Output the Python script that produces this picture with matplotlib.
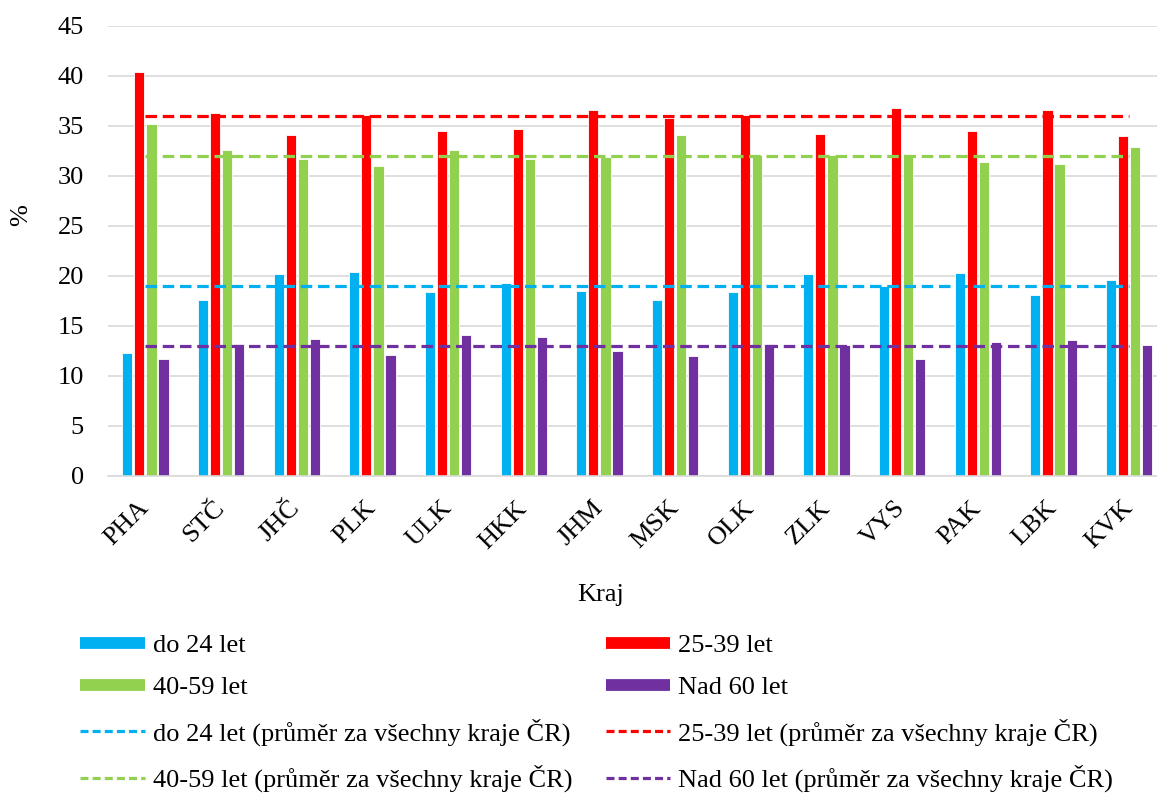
import matplotlib
matplotlib.use("Agg")
import matplotlib.pyplot as plt
import numpy as np
from matplotlib.lines import Line2D

plt.rcParams['font.family'] = ['Liberation Serif', 'DejaVu Serif']

categories = ["PHA", "STČ", "JHČ", "PLK", "ULK", "HKK", "JHM", "MSK", "OLK", "ZLK", "VYS", "PAK", "LBK", "KVK"]
do24 = [12.3, 17.6, 20.2, 20.4, 18.4, 19.3, 18.5, 17.6, 18.4, 20.2, 19.0, 20.3, 18.1, 19.6]
l25_39 = [40.4, 36.3, 34.1, 36.1, 34.5, 34.7, 36.6, 35.8, 36.1, 34.2, 36.8, 34.5, 36.6, 34.0]
l40_59 = [35.2, 32.6, 31.7, 31.0, 32.6, 31.7, 31.9, 34.1, 32.1, 32.1, 32.2, 31.4, 31.2, 32.9]
nad60 = [11.7, 13.2, 13.7, 12.1, 14.1, 13.9, 12.5, 12.0, 13.2, 13.1, 11.7, 13.4, 13.6, 13.1]
avg_do24 = 19.0
avg_25_39 = 36.0
avg_40_59 = 32.0
avg_nad60 = 13.0

series_names = ["do 24 let", "25-39 let", "40-59 let", "Nad 60 let"]
avg_suffix = " (průměr za všechny kraje ČR)"
colors = ["#00B0F0", "#FF0000", "#92D050", "#7030A0"]

FS = 19

fig = plt.figure(figsize=(11.57, 7.94), dpi=100)
ax = fig.add_axes([0.093, 0.401, 0.9156, 0.5666])

x = np.arange(len(categories))
bw = 0.135
offsets = [-0.24, -0.08, 0.08, 0.24]
data = [do24, l25_39, l40_59, nad60]
for vals, off, c in zip(data, offsets, colors):
    ax.bar(x + off, vals, width=bw, color=c, edgecolor='white', linewidth=0.6, zorder=2)

avgs = [avg_do24, avg_25_39, avg_40_59, avg_nad60]
dash = (0, (3.6, 1.8))
for a, c in zip(avgs, colors):
    ax.plot(x, [a] * len(x), color=c, lw=2.3, linestyle=dash, zorder=3)

ax.set_xlim(-0.5, len(categories) - 0.5)
ax.set_ylim(0, 45)
ax.set_yticks(np.arange(0, 46, 5))
ax.yaxis.grid(True, color='#D9D9D9', linewidth=1.2, zorder=0)
ax.set_axisbelow(True)
for s in ['top', 'right', 'left']:
    ax.spines[s].set_visible(False)
ax.spines['bottom'].set_color('#D9D9D9')
ax.spines['bottom'].set_linewidth(1.2)
ax.tick_params(axis='both', length=0, labelsize=FS)
ax.tick_params(axis='y', pad=17)
ax.set_xticks(x)
ax.set_xticklabels(categories, rotation=45, ha='right', va='center', rotation_mode='anchor')
ax.tick_params(axis='x', pad=21)
ax.set_ylabel("%", fontsize=FS)
ax.yaxis.set_label_coords(-0.071, 0.58)
ax.set_xlabel("Kraj", fontsize=FS)
ax.xaxis.set_label_coords(0.4657, -0.24)

handles = []
labels = []
bar_h = [Line2D([], [], color=c, lw=8.5, solid_capstyle='butt') for c in colors]
avg_h = [Line2D([], [], color=c, lw=2.3, linestyle=(0, (2.5, 1.3))) for c in colors]
for col in ([0, 2], [1, 3]):
    for i in col:
        handles.append(bar_h[i]); labels.append(series_names[i])
    for i in col:
        handles.append(avg_h[i]); labels.append(series_names[i] + avg_suffix)

fig.legend(handles, labels, ncol=2, loc='upper left', bbox_to_anchor=(0.060, 0.2155),
           frameon=False, fontsize=FS, handlelength=2.45, handletextpad=0.3,
           columnspacing=1.27, labelspacing=0.72, borderaxespad=0)

fig.savefig("out.png", dpi=100)
